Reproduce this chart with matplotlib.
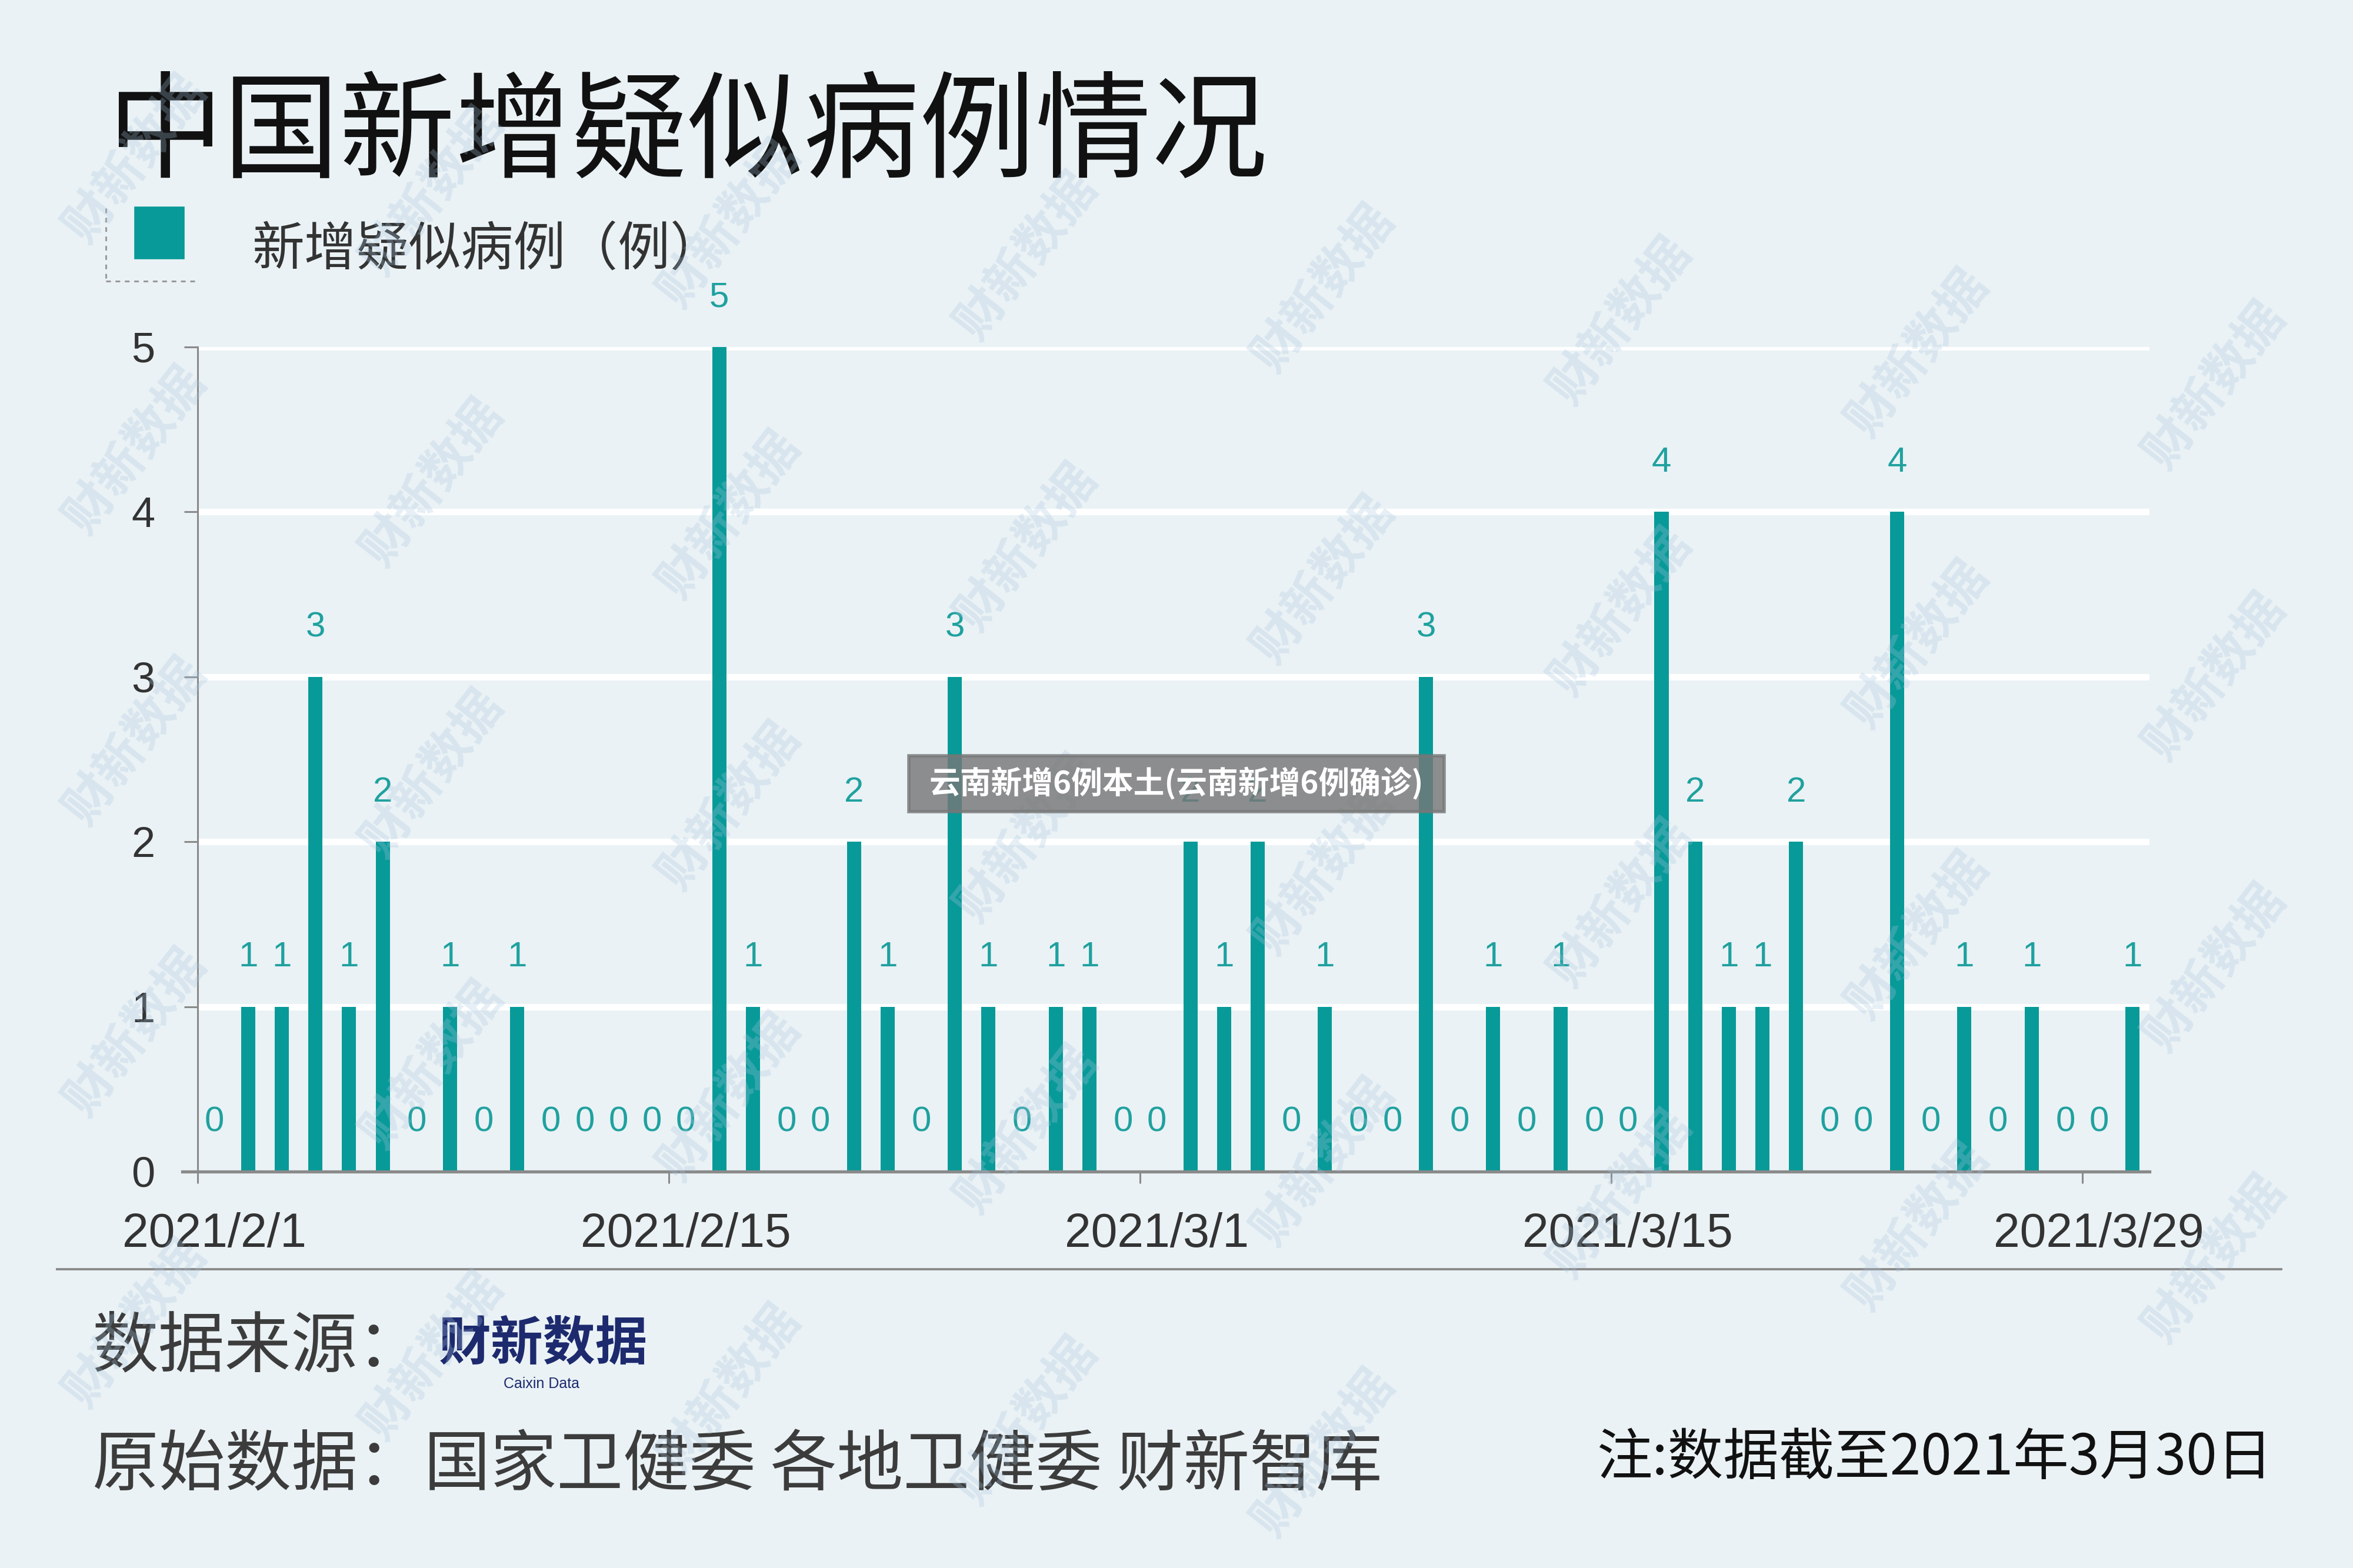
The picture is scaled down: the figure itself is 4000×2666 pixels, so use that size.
import numpy as np
import pandas as pd
import matplotlib
matplotlib.use("Agg")
import matplotlib.pyplot as plt
import matplotlib.dates as mdates
from matplotlib.patches import Rectangle
from matplotlib.lines import Line2D

# ---------------- data ----------------
dates = pd.date_range("2021-02-01", "2021-03-30", freq="D")
values = [0, 1, 1, 3, 1, 2, 0, 1, 0, 1,
          0, 0, 0, 0, 0, 5, 1, 0, 0, 2,
          1, 0, 3, 1, 0, 1, 1, 0, 0, 2,
          1, 2, 0, 1, 0, 0, 3, 0, 1, 0,
          1, 0, 0, 4, 2, 1, 1, 2, 0, 0,
          4, 0, 1, 0, 1, 0, 0, 1]
tick_dates = ["2021-02-01", "2021-02-15", "2021-03-01", "2021-03-15", "2021-03-29"]
tick_labels = ["2021/2/1", "2021/2/15", "2021/3/1", "2021/3/15", "2021/3/29"]
y_ticks = [0, 1, 2, 3, 4, 5]

title = "中国新增疑似病例情况"
legend_label = "新增疑似病例（例）"
source_label = "数据来源："
logo_text = "财新数据"
logo_sub = "Caixin Data"
raw_source = "原始数据：国家卫健委 各地卫健委 财新智库"
note = "注:数据截至2021年3月30日"
overlay = "云南新增6例本土(云南新增6例确诊)"
watermark = "财新数据"

# ---------------- style ----------------
BG = "#eaf2f5"
TEAL = "#079a98"
LABEL_TEAL = "#1fa19f"
GRAY = "#8a8a8a"
CJK = ["Noto Sans CJK SC", "DejaVu Sans"]
LAT = ["Liberation Sans", "DejaVu Sans"]

W, H = 4000, 2666
fig = plt.figure(figsize=(W / 400, H / 400), dpi=400)
fig.patch.set_facecolor(BG)

def fx(px):
    return px / W

def fy(py):
    return 1 - py / H

ax = fig.add_axes([fx(336), fy(1992), fx(3654) - fx(336), fy(590) - fy(1992)])
ax.set_facecolor("none")

x = mdates.date2num(dates) + 0.5
ax.bar(x, values, width=0.42, color=TEAL, zorder=3)
for xi, v in zip(x, values):
    ax.text(xi, v + 0.3, str(v), ha="center", va="center", fontsize=10.8,
            color=LABEL_TEAL, family=LAT, zorder=4, clip_on=False)

x0 = mdates.date2num(dates[0])
x1 = mdates.date2num(dates[-1]) + 1
ax.set_xlim(x0, x1)
ax.set_ylim(0, 5)

# white horizontal gridlines
for yv in y_ticks[1:]:
    ax.axhline(yv, color="white", lw=2.0, zorder=1)

tick_pos = mdates.date2num(pd.to_datetime(tick_dates))
ax.set_xticks(tick_pos)
ax.set_xticklabels([])
ax.set_xticks(tick_pos + 0.5, minor=True)
ax.set_xticklabels(tick_labels, minor=True)
ax.tick_params(axis="x", which="major", direction="out", length=3.6, width=0.55,
               color=GRAY)
ax.tick_params(axis="x", which="minor", length=0, pad=12.5, labelsize=14.5,
               labelcolor="#333333")
ax.set_yticks(y_ticks)
ax.set_yticklabels([str(v) for v in y_ticks])
ax.tick_params(axis="y", direction="out", length=4.1, width=0.55, color=GRAY,
               pad=9, labelsize=13, labelcolor="#333333")
for lab in ax.get_xticklabels(minor=True) + ax.get_yticklabels():
    lab.set_family(LAT)

for s in ["top", "right"]:
    ax.spines[s].set_visible(False)
ax.spines["left"].set_color(GRAY)
ax.spines["left"].set_linewidth(0.55)
ax.spines["bottom"].set_color(GRAY)
ax.spines["bottom"].set_linewidth(0.95)
ax.spines["bottom"].set_zorder(5)
ax.spines["bottom"].set_bounds(x0 - 0.45, x1)

# ---------------- title & legend ----------------
fig.text(fx(182), fy(231), title, family=CJK, fontsize=35.5, color="#111111",
         ha="left", va="center")

fig.add_artist(Line2D([fx(180), fx(180)], [fy(354), fy(478)], color="#9a9a9a",
                      lw=0.55, linestyle=(0, (2.6, 2.6))))
fig.add_artist(Line2D([fx(180), fx(337)], [fy(478), fy(478)], color="#9a9a9a",
                      lw=0.55, linestyle=(0, (2.6, 2.6))))
fig.add_artist(Rectangle((fx(231), fy(438)), fx(80), 84 / H, color=TEAL,
                         transform=fig.transFigure))
fig.text(fx(428), fy(425), legend_label, family=CJK, fontsize=16,
         color="#333333", ha="left", va="center")

# ---------------- footer ----------------
fig.add_artist(Line2D([fx(97), fx(3878)], [fy(2158), fy(2158)], color=GRAY,
                      lw=0.7))
fig.text(fx(157), fy(2291), source_label, family=CJK, fontsize=20.3,
         color="#3c3c3c", ha="left", va="center")
fig.text(fx(924), fy(2285), logo_text, family=CJK, fontsize=16, weight="heavy",
         color="#1d2a6e", ha="center", va="center")
fig.text(fx(920), fy(2353), logo_sub, family=LAT, fontsize=4.5,
         color="#1d2a6e", ha="center", va="center")
fig.text(fx(157), fy(2493), raw_source, family=CJK, fontsize=20.3,
         color="#3c3c3c", ha="left", va="center")
fig.text(fx(3863), fy(2480), note, family=CJK, fontsize=17,
         color="#111111", ha="right", va="center")

# ---------------- watermark ----------------
for r in range(-3, 7):
    for c in range(-1, 9):
        px = 230 + c * 505
        py = 765 + r * 495 + c * 55
        if 170 < px < W - 170 and 170 < py < H - 170:
            fig.text(fx(px), fy(py), watermark, family=CJK, fontsize=15,
                     weight="bold", color="#a9c5df", alpha=0.28, rotation=52,
                     ha="center", va="center", zorder=10)

# ---------------- overlay caption ----------------
fig.add_artist(Rectangle((fx(1545), fy(1380)), fx(910), 95 / H,
                         color="#777777", alpha=0.82,
                         transform=fig.transFigure, zorder=11))
fig.text(0.5, fy(1332), overlay, family=CJK, fontsize=9.5, weight="heavy",
         color="white", ha="center", va="center", zorder=12)

fig.savefig("out.png", dpi=400, facecolor=BG)
